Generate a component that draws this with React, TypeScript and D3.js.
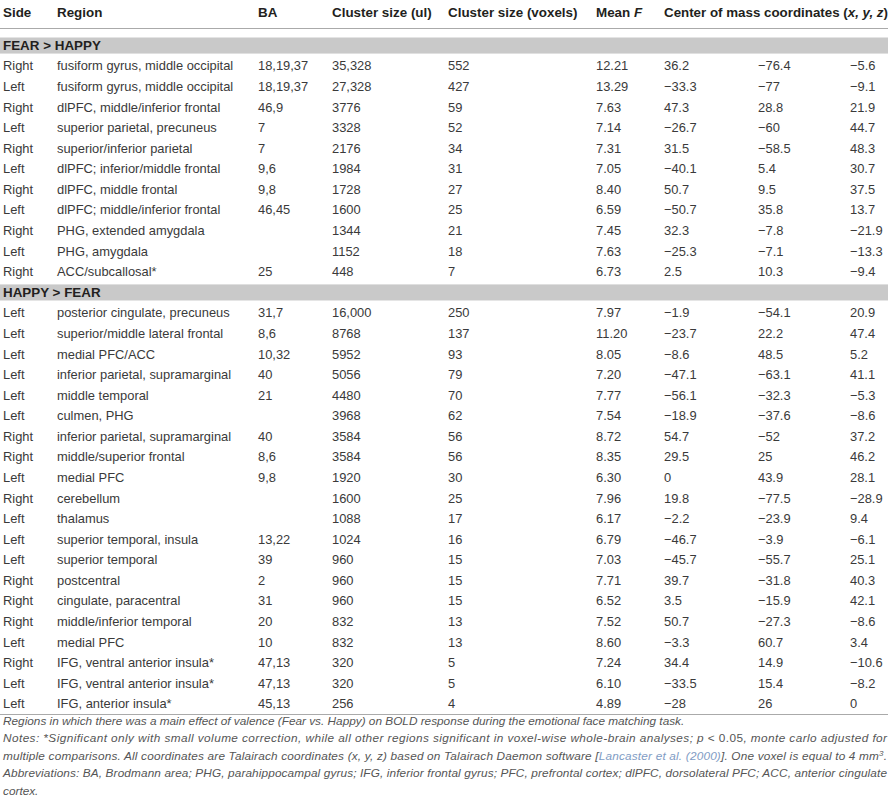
import React from "react";
import * as d3 from "d3";

const headers = ["Side", "Region", "BA", "Cluster size (ul)", "Cluster size (voxels)", "Mean F", "Center of mass coordinates (x, y, z)"];
const sectionTitles = ["FEAR > HAPPY", "HAPPY > FEAR"];

// FEAR > HAPPY
const fearSide = ["Right", "Left", "Right", "Left", "Right", "Left", "Right", "Left", "Right", "Left", "Right"];
const fearRegion = [
  "fusiform gyrus, middle occipital", "fusiform gyrus, middle occipital", "dlPFC, middle/inferior frontal",
  "superior parietal, precuneus", "superior/inferior parietal", "dlPFC; inferior/middle frontal",
  "dlPFC, middle frontal", "dlPFC; middle/inferior frontal", "PHG, extended amygdala", "PHG, amygdala", "ACC/subcallosal*",
];
const fearBA = ["18,19,37", "18,19,37", "46,9", "7", "7", "9,6", "9,8", "46,45", "", "", "25"];
const fearClusterUl = ["35,328", "27,328", "3776", "3328", "2176", "1984", "1728", "1600", "1344", "1152", "448"];
const fearClusterVox = [552, 427, 59, 52, 34, 31, 27, 25, 21, 18, 7];
const fearMeanF = ["12.21", "13.29", "7.63", "7.14", "7.31", "7.05", "8.40", "6.59", "7.45", "7.63", "6.73"];
const fearX = [36.2, -33.3, 47.3, -26.7, 31.5, -40.1, 50.7, -50.7, 32.3, -25.3, 2.5];
const fearY = [-76.4, -77, 28.8, -60, -58.5, 5.4, 9.5, 35.8, -7.8, -7.1, 10.3];
const fearZ = [-5.6, -9.1, 21.9, 44.7, 48.3, 30.7, 37.5, 13.7, -21.9, -13.3, -9.4];

// HAPPY > FEAR
const happySide = ["Left", "Left", "Left", "Left", "Left", "Left", "Right", "Right", "Left", "Right", "Left", "Left", "Left", "Right", "Right", "Right", "Left", "Right", "Left", "Left"];
const happyRegion = [
  "posterior cingulate, precuneus", "superior/middle lateral frontal", "medial PFC/ACC", "inferior parietal, supramarginal",
  "middle temporal", "culmen, PHG", "inferior parietal, supramarginal", "middle/superior frontal", "medial PFC",
  "cerebellum", "thalamus", "superior temporal, insula", "superior temporal", "postcentral", "cingulate, paracentral",
  "middle/inferior temporal", "medial PFC", "IFG, ventral anterior insula*", "IFG, ventral anterior insula*", "IFG, anterior insula*",
];
const happyBA = ["31,7", "8,6", "10,32", "40", "21", "", "40", "8,6", "9,8", "", "", "13,22", "39", "2", "31", "20", "10", "47,13", "47,13", "45,13"];
const happyClusterUl = ["16,000", "8768", "5952", "5056", "4480", "3968", "3584", "3584", "1920", "1600", "1088", "1024", "960", "960", "960", "832", "832", "320", "320", "256"];
const happyClusterVox = [250, 137, 93, 79, 70, 62, 56, 56, 30, 25, 17, 16, 15, 15, 15, 13, 13, 5, 5, 4];
const happyMeanF = ["7.97", "11.20", "8.05", "7.20", "7.77", "7.54", "8.72", "8.35", "6.30", "7.96", "6.17", "6.79", "7.03", "7.71", "6.52", "7.52", "8.60", "7.24", "6.10", "4.89"];
const happyX = [-1.9, -23.7, -8.6, -47.1, -56.1, -18.9, 54.7, 29.5, 0, 19.8, -2.2, -46.7, -45.7, 39.7, 3.5, 50.7, -3.3, 34.4, -33.5, -28];
const happyY = [-54.1, 22.2, 48.5, -63.1, -32.3, -37.6, -52, 25, 43.9, -77.5, -23.9, -3.9, -55.7, -31.8, -15.9, -27.3, 60.7, 14.9, 15.4, 26];
const happyZ = [20.9, 47.4, 5.2, 41.1, -5.3, -8.6, 37.2, 46.2, 28.1, -28.9, 9.4, -6.1, 25.1, 40.3, 42.1, -8.6, 3.4, -10.6, -8.2, 0];

const W = 890;
const H = 805;
const colX = { side: 3, region: 57, ba: 258, ul: 332, vox: 448, f: 596, x: 664, y: 758, z: 850 };
const FONT = "'Liberation Sans', Arial, Helvetica, sans-serif";
const FS = 12.9;
const HFS = 13.4;

const fmt = (v: number) => (v < 0 ? "\u2212" + String(Math.abs(v)) : String(v));

type Row = { kind: "section"; title: string } | { kind: "row"; cells: string[] };

function buildRows(): Row[] {
  const rows: Row[] = [];
  rows.push({ kind: "section", title: sectionTitles[0] });
  fearSide.forEach((s, i) =>
    rows.push({ kind: "row", cells: [s, fearRegion[i], fearBA[i], fearClusterUl[i], String(fearClusterVox[i]), fearMeanF[i], fmt(fearX[i]), fmt(fearY[i]), fmt(fearZ[i])] })
  );
  rows.push({ kind: "section", title: sectionTitles[1] });
  happySide.forEach((s, i) =>
    rows.push({ kind: "row", cells: [s, happyRegion[i], happyBA[i], happyClusterUl[i], String(happyClusterVox[i]), happyMeanF[i], fmt(happyX[i]), fmt(happyY[i]), fmt(happyZ[i])] })
  );
  return rows;
}

export default function App() {
  const rows = buildRows();
  const yScale = d3.scaleBand<number>().domain(d3.range(rows.length)).range([35, 714]).paddingInner(0);
  const bw = yScale.bandwidth();
  const cols = [colX.side, colX.region, colX.ba, colX.ul, colX.vox, colX.f, colX.x, colX.y, colX.z];
  const textColor = "#3a3a3a";
  const headColor = "#231f20";
  const noteColor = "#555";
  const noteFS = 11.8;
  const noteY0 = 725;
  const noteDy = 17.4;
  const noteL = 3;
  const noteR = 887;

  return (
    <svg width={W} height={H} style={{ position: "absolute", left: 0, top: 0, background: "#fff" }} fontFamily={FONT}>
      <rect x={0} y={0} width={W} height={H} fill="#fff" />
      {/* header */}
      <g fontWeight="bold" fontSize={HFS} fill={headColor}>
        <text x={colX.side} y={17}>{headers[0]}</text>
        <text x={colX.region} y={17}>{headers[1]}</text>
        <text x={colX.ba} y={17}>{headers[2]}</text>
        <text x={colX.ul} y={17}>{headers[3]}</text>
        <text x={colX.vox} y={17}>{headers[4]}</text>
        <text x={colX.f} y={17}>Mean <tspan fontStyle="italic">F</tspan></text>
        <text x={colX.x} y={17} textLength={888 - colX.x} lengthAdjust="spacingAndGlyphs">Center of mass coordinates (<tspan fontStyle="italic">x, y, z</tspan>)</text>
      </g>
      <line x1={0} x2={W - 2} y1={28.5} y2={28.5} stroke="#aaa" strokeWidth={1.2} />
      {rows.map((r, i) => {
        const y0 = yScale(i)!;
        const cy = y0 + bw / 2;
        if (r.kind === "section") {
          return (
            <g key={i}>
              <rect x={0} y={y0 + 2.5} width={W - 2} height={bw - 4.5} fill="#c9c9c9" />
              <text x={colX.side} y={cy + 4.8} fontWeight="bold" fontSize={HFS} fill={headColor}>{r.title}</text>
            </g>
          );
        }
        return (
          <g key={i} fontSize={FS} fill={textColor}>
            {r.cells.map((c, j) => (c ? <text key={j} x={cols[j]} y={cy + 4.6}>{c}</text> : null))}
          </g>
        );
      })}
      <line x1={0} x2={W - 2} y1={714.5} y2={714.5} stroke="#aaa" strokeWidth={1.2} />
      {/* notes */}
      <g fontStyle="italic" fontSize={noteFS} fill={noteColor}>
        <text x={noteL} y={noteY0}>Regions in which there was a main effect of valence (Fear vs. Happy) on BOLD response during the emotional face matching task.</text>
        <text x={noteL} y={noteY0 + noteDy} textLength={noteR - noteL} lengthAdjust="spacing">
          Notes: *Significant only with small volume correction, while all other regions significant in voxel-wise whole-brain analyses; <tspan>p</tspan> <tspan fontStyle="normal">{"< 0.05"}</tspan>, monte carlo adjusted for
        </text>
        <text x={noteL} y={noteY0 + noteDy * 2} textLength={noteR - noteL} lengthAdjust="spacing">
          multiple comparisons. All coordinates are Talairach coordinates (x, y, z) based on Talairach Daemon software [<tspan fill="#7f9cc4">Lancaster et al. (2000)</tspan>]. One voxel is equal to 4 mm<tspan dy={-4} fontSize={8}>3</tspan><tspan dy={4}>.</tspan>
        </text>
        <text x={noteL} y={noteY0 + noteDy * 3} textLength={noteR - noteL} lengthAdjust="spacing">
          Abbreviations: BA, Brodmann area; PHG, parahippocampal gyrus; IFG, inferior frontal gyrus; PFC, prefrontal cortex; dlPFC, dorsolateral PFC; ACC, anterior cingulate
        </text>
        <text x={noteL} y={noteY0 + noteDy * 4}>cortex.</text>
      </g>
    </svg>
  );
}
